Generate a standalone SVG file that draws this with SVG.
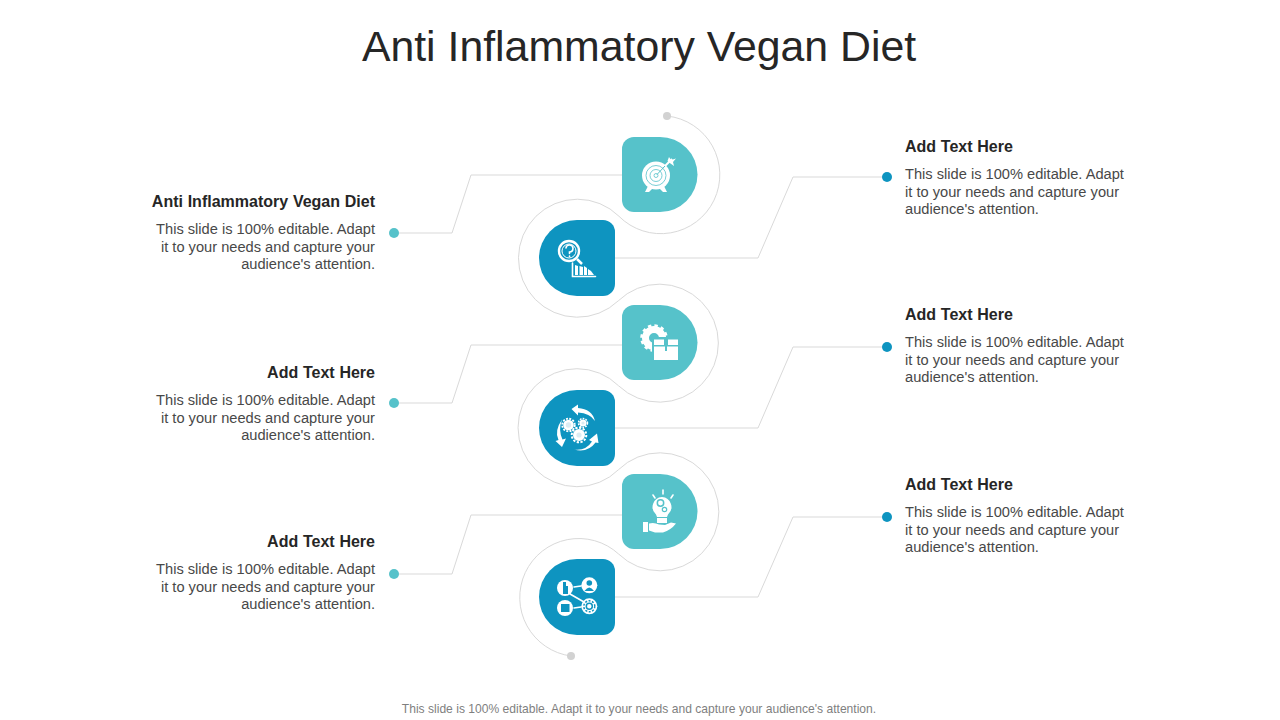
<svg xmlns="http://www.w3.org/2000/svg" width="1280" height="720" viewBox="0 0 1280 720">
<style>
text{font-family:"Liberation Sans",Arial,sans-serif}
.t{font-size:42.8px;fill:#262626;text-anchor:middle}
.h{font-size:16px;font-weight:bold;fill:#262626;word-spacing:.3px}
.b{font-size:14.65px;fill:#484848}
.r{text-anchor:end}
.f{font-size:12.08px;fill:#7f7f7f;text-anchor:middle}
.c{fill:none;stroke:#d9d9d9;stroke-width:1}
.teal{fill:#56c2ca}
.blue{fill:#0e94c0}
.w{fill:#fff}
.ws{fill:none;stroke:#fff;stroke-width:1.6;stroke-linecap:round}
</style>
<defs>
<path id="tn" d="M634,0H660A37.5,37.5 0 0 1 660,75H634A12,12 0 0 1 622,63V12A12,12 0 0 1 634,0Z"/>
<path id="bn" d="M577,0H603A12,12 0 0 1 615,12V64A12,12 0 0 1 603,76H577A38,38 0 0 1 577,0Z"/>
</defs>
<text class="t" x="639" y="60.500">Anti Inflammatory Vegan Diet</text>
<g id="connectors">
<path id="spiral" class="c" d="M667,116A59,59 0 1 1 619,216.300A59,59 0 1 0 618.300,300.800A59,59 0 1 1 618.600,385.800A59,59 0 1 0 618.600,469.600A59,59 0 1 1 618.600,554A59,59 0 1 0 571,656"/>
<path class="c" d="M394,233H452L471,175H622"/>
<path class="c" d="M615,258H758L793,177H887"/>
<path class="c" d="M394,403H452L471,345H622"/>
<path class="c" d="M615,428H758L793,347H887"/>
<path class="c" d="M394,574H452L471,515H622"/>
<path class="c" d="M615,597H758L793,517H887"/>
<circle cx="667" cy="116" r="4" fill="#d2d2d2"/>
<circle cx="571" cy="656" r="4" fill="#d2d2d2"/>
<circle cx="394" cy="233" r="5" class="teal"/>
<circle cx="394" cy="403" r="5" class="teal"/>
<circle cx="394" cy="574" r="5" class="teal"/>
<circle cx="887" cy="177" r="5" class="blue"/>
<circle cx="887" cy="347" r="5" class="blue"/>
<circle cx="887" cy="517" r="5" class="blue"/>
</g>
<g id="node-1">
<use href="#tn" y="137" class="teal"/>
<path class="w" d="M648,186L645,192H649L653,188ZM664,186L667,192H663L659,188Z"/>
<circle cx="656" cy="175.500" r="14" class="w"/>
<circle cx="656" cy="175.500" r="10" fill="none" stroke="#56c2ca" stroke-width=".8"/>
<circle cx="656" cy="175.500" r="6" fill="none" stroke="#56c2ca" stroke-width=".8"/>
<circle cx="656" cy="175.500" r="2" fill="none" stroke="#56c2ca" stroke-width=".8"/>
<path d="M657,174.500L665,166" stroke="#56c2ca" stroke-width="1"/>
<path d="M665,166L672,159" stroke="#fff" stroke-width="2"/>
<path class="w" d="M669,157L671,160L676,158.500L673,162L674,166L670.500,163.500L667.500,161Z"/>
<text class="h r" x="375" y="207">Anti Inflammatory Vegan Diet</text>
<text class="b r" x="375" y="234">This slide is 100% editable. Adapt</text>
<text class="b r" x="375" y="252">it to your needs and capture your</text>
<text class="b r" x="375" y="269">audience's attention.</text>
</g>
<g id="node-2">
<use href="#bn" y="220" class="blue"/>
<circle cx="569" cy="251" r="10" fill="none" stroke="#fff" stroke-width="2.400"/>
<circle cx="569" cy="251" r="7" fill="none" stroke="#fff" stroke-width="1"/>
<path d="M577,259L582,264" stroke="#fff" stroke-width="2.500"/>
<path class="ws" d="M566,248a3.500,3.500 0 1 1 3.500,4v1.500M569.500,256v.5" stroke-width="1"/>
<path class="ws" d="M572.500,263V276.500H595.500" stroke-width="1.400"/>
<path class="w" d="M575,265L578,266V275H575ZM579.500,266L583,267V275H579.500ZM584,266L587,268V275H584ZM588,269L591,271L594,275H588Z"/>
<text class="h" x="905" y="152">Add Text Here</text>
<text class="b" x="905" y="179">This slide is 100% editable. Adapt</text>
<text class="b" x="905" y="197">it to your needs and capture your</text>
<text class="b" x="905" y="214">audience's attention.</text>
</g>
<g id="node-3">
<use href="#tn" y="305" class="teal"/>
<circle cx="654" cy="338" r="8.500" fill="none" stroke="#fff" stroke-width="7"/>
<circle cx="654" cy="338" r="12.500" fill="none" stroke="#fff" stroke-width="2.500" stroke-dasharray="3.400 3.150"/>
<path class="teal" d="M652,337H680V362H652Z"/>
<path class="w" d="M654,346.500H678V360H654ZM654,339.500H664V345H654ZM668,339.500H678V345H668Z"/>
<path d="M665,345H667V351H665Z" class="teal"/>
<text class="h r" x="375" y="378">Add Text Here</text>
<text class="b r" x="375" y="405">This slide is 100% editable. Adapt</text>
<text class="b r" x="375" y="423">it to your needs and capture your</text>
<text class="b r" x="375" y="440">audience's attention.</text>
</g>
<g id="node-4">
<use href="#bn" y="390" class="blue"/>
<circle cx="568.500" cy="425" r="4" fill="#dcecf2" stroke="#fff" stroke-width="2.600"/>
<circle cx="568.500" cy="425" r="6.300" fill="none" stroke="#fff" stroke-width="1.800" stroke-dasharray="2 1.300"/>
<circle cx="583" cy="423" r="2.600" fill="#dcecf2" stroke="#fff" stroke-width="2"/>
<circle cx="583" cy="423" r="4.500" fill="none" stroke="#fff" stroke-width="1.500" stroke-dasharray="1.700 1.200"/>
<circle cx="579" cy="435" r="4.300" fill="#dcecf2" stroke="#fff" stroke-width="3.400"/>
<circle cx="579" cy="435" r="7.300" fill="none" stroke="#fff" stroke-width="2" stroke-dasharray="2.300 1.500"/>
<path class="w" d="M571.500,409L578,404.500V408Q592,409 595,421Q590,413 578,412.500V415.500Z"/>
<path class="w" d="M562,419.500Q554,431 558.500,440L555.500,441L562,447L566,438.500L562.500,439.500Q558,430 562,419.500Z"/>
<path class="w" d="M574,449.500Q586,451 592,441.500L589,440L597,433.500L598.500,443L595.500,442.500Q588,453 574,449.500Z"/>
<text class="h" x="905" y="320">Add Text Here</text>
<text class="b" x="905" y="347">This slide is 100% editable. Adapt</text>
<text class="b" x="905" y="365">it to your needs and capture your</text>
<text class="b" x="905" y="382">audience's attention.</text>
</g>
<g id="node-5">
<use href="#tn" y="474" class="teal"/>
<path class="w" d="M662,497A10,10 0 0 1 668,514.500L667,517H657L656,514.500A10,10 0 0 1 662,497Z"/>
<path class="w" d="M657,518H667V523H657Z"/>
<circle cx="660.500" cy="503" r="3.200" fill="none" stroke="#56c2ca" stroke-width="1.500"/>
<circle cx="664.500" cy="509.500" r="2.200" fill="none" stroke="#56c2ca" stroke-width="1.200"/>
<path class="ws" d="M663,490V494M653,495L655,498M673,495L671,498" stroke-width="1.300"/>
<path class="w" d="M643,522H648V532H643ZM649,523.500Q654,522 659,524.500L665,525L671,522.500L676,523.500Q671,530 663,532.500H655L649,530.500Z"/>
<text class="h r" x="375" y="547">Add Text Here</text>
<text class="b r" x="375" y="574">This slide is 100% editable. Adapt</text>
<text class="b r" x="375" y="592">it to your needs and capture your</text>
<text class="b r" x="375" y="609">audience's attention.</text>
</g>
<g id="node-6">
<use href="#bn" y="559" class="blue"/>
<path class="ws" d="M574,587L581,586M570,594L584,602M574,608L581,607" stroke-width="1.300"/>
<circle cx="565" cy="588" r="8" class="w"/>
<circle cx="589.300" cy="585.300" r="8" class="w"/>
<circle cx="565" cy="608" r="8" class="w"/>
<circle cx="589.300" cy="606.300" r="8" class="w"/>
<path class="blue" d="M563,582H566V586H568V594H563Z"/>
<circle cx="589.300" cy="583" r="2.800" class="blue"/>
<path class="blue" d="M584.500,591Q589.300,584 594,591Z"/>
<path class="blue" d="M561,604H569.500V612H561Z"/>
<circle cx="589.300" cy="606.300" r="3" fill="none" stroke="#0e94c0" stroke-width="1.500"/>
<circle cx="589.300" cy="606.300" r="5.500" fill="none" stroke="#0e94c0" stroke-width="1.500" stroke-dasharray="2 1.500"/>
<text class="h" x="905" y="490">Add Text Here</text>
<text class="b" x="905" y="517">This slide is 100% editable. Adapt</text>
<text class="b" x="905" y="535">it to your needs and capture your</text>
<text class="b" x="905" y="552">audience's attention.</text>
</g>
<text class="f" x="639" y="713">This slide is 100% editable. Adapt it to your needs and capture your audience's attention.</text>
</svg>
